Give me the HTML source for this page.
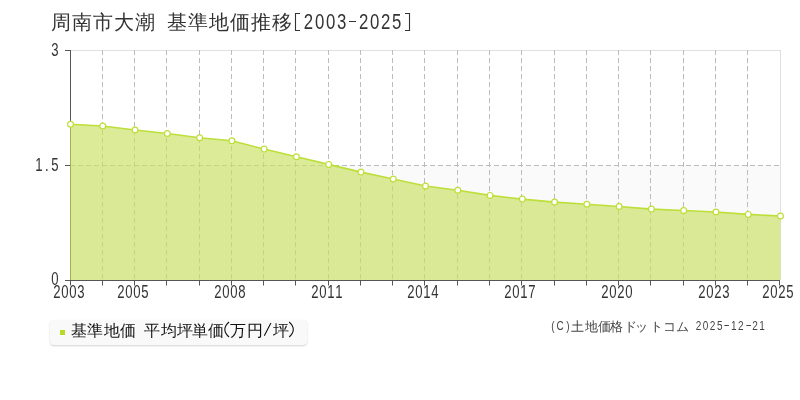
<!DOCTYPE html>
<html><head><meta charset="utf-8"><style>
html,body{margin:0;padding:0;background:#fff;width:800px;height:400px;overflow:hidden;}
body{font-family:"Liberation Sans",sans-serif;position:relative;}
svg{position:absolute;left:0;top:0;will-change:transform;}
text{font-family:"Liberation Sans",sans-serif;}
.ax{font-size:17.5px;fill:#333;}
.tt{font-size:20px;fill:#333;}
.th{font-size:21.5px;fill:#333;}
.lg{font-size:16px;fill:#111;}
.cp{font-size:12.5px;fill:#444;}
.cd{font-size:12.5px;fill:#444;}
.legend{position:absolute;left:50px;top:320px;width:257px;height:25px;background:#f9f9f9;border-radius:4px;box-shadow:0 1px 2px rgba(0,0,0,0.18);}
.legend .mk{position:absolute;left:10px;top:10px;width:5px;height:5px;background:#b7da2a;}
</style></head><body>
<div class="legend"><div class="mk"></div></div>
<svg width="800" height="400">
<rect x="70" y="165" width="710" height="115" fill="#fafafa"/>
<line x1="70" y1="50.5" x2="780" y2="50.5" stroke="#e0e0e0" stroke-width="1"/>
<line x1="780.5" y1="50" x2="780.5" y2="280" stroke="#e0e0e0" stroke-width="1"/>
<line x1="70" y1="165.5" x2="780" y2="165.5" stroke="#bcbcbc" stroke-width="1" stroke-dasharray="5,3"/>
<line x1="102.5" y1="50" x2="102.5" y2="280" stroke="#bcbcbc" stroke-width="1" stroke-dasharray="5,3"/>
<line x1="134.5" y1="50" x2="134.5" y2="280" stroke="#bcbcbc" stroke-width="1" stroke-dasharray="5,3"/>
<line x1="166.5" y1="50" x2="166.5" y2="280" stroke="#bcbcbc" stroke-width="1" stroke-dasharray="5,3"/>
<line x1="199.5" y1="50" x2="199.5" y2="280" stroke="#bcbcbc" stroke-width="1" stroke-dasharray="5,3"/>
<line x1="231.5" y1="50" x2="231.5" y2="280" stroke="#bcbcbc" stroke-width="1" stroke-dasharray="5,3"/>
<line x1="263.5" y1="50" x2="263.5" y2="280" stroke="#bcbcbc" stroke-width="1" stroke-dasharray="5,3"/>
<line x1="295.5" y1="50" x2="295.5" y2="280" stroke="#bcbcbc" stroke-width="1" stroke-dasharray="5,3"/>
<line x1="328.5" y1="50" x2="328.5" y2="280" stroke="#bcbcbc" stroke-width="1" stroke-dasharray="5,3"/>
<line x1="360.5" y1="50" x2="360.5" y2="280" stroke="#bcbcbc" stroke-width="1" stroke-dasharray="5,3"/>
<line x1="392.5" y1="50" x2="392.5" y2="280" stroke="#bcbcbc" stroke-width="1" stroke-dasharray="5,3"/>
<line x1="424.5" y1="50" x2="424.5" y2="280" stroke="#bcbcbc" stroke-width="1" stroke-dasharray="5,3"/>
<line x1="457.5" y1="50" x2="457.5" y2="280" stroke="#bcbcbc" stroke-width="1" stroke-dasharray="5,3"/>
<line x1="489.5" y1="50" x2="489.5" y2="280" stroke="#bcbcbc" stroke-width="1" stroke-dasharray="5,3"/>
<line x1="521.5" y1="50" x2="521.5" y2="280" stroke="#bcbcbc" stroke-width="1" stroke-dasharray="5,3"/>
<line x1="554.5" y1="50" x2="554.5" y2="280" stroke="#bcbcbc" stroke-width="1" stroke-dasharray="5,3"/>
<line x1="586.5" y1="50" x2="586.5" y2="280" stroke="#bcbcbc" stroke-width="1" stroke-dasharray="5,3"/>
<line x1="618.5" y1="50" x2="618.5" y2="280" stroke="#bcbcbc" stroke-width="1" stroke-dasharray="5,3"/>
<line x1="650.5" y1="50" x2="650.5" y2="280" stroke="#bcbcbc" stroke-width="1" stroke-dasharray="5,3"/>
<line x1="683.5" y1="50" x2="683.5" y2="280" stroke="#bcbcbc" stroke-width="1" stroke-dasharray="5,3"/>
<line x1="715.5" y1="50" x2="715.5" y2="280" stroke="#bcbcbc" stroke-width="1" stroke-dasharray="5,3"/>
<line x1="747.5" y1="50" x2="747.5" y2="280" stroke="#bcbcbc" stroke-width="1" stroke-dasharray="5,3"/>
<line x1="70.5" y1="50" x2="70.5" y2="280" stroke="#555" stroke-width="1"/>
<polygon points="70,280 70,124.25 70.50,124.25 102.77,126.00 135.05,130.00 167.32,133.50 199.59,137.75 231.86,140.80 264.14,149.10 296.41,156.75 328.68,164.40 360.95,172.10 393.23,179.00 425.50,186.00 457.77,190.25 490.05,195.40 522.32,199.10 554.59,202.10 586.86,204.25 619.14,206.50 651.41,209.10 683.68,210.50 715.95,212.00 748.23,214.40 780.50,216.00 780.5,280" fill="rgba(200,224,97,0.65)"/>
<polyline points="70.50,124.25 102.77,126.00 135.05,130.00 167.32,133.50 199.59,137.75 231.86,140.80 264.14,149.10 296.41,156.75 328.68,164.40 360.95,172.10 393.23,179.00 425.50,186.00 457.77,190.25 490.05,195.40 522.32,199.10 554.59,202.10 586.86,204.25 619.14,206.50 651.41,209.10 683.68,210.50 715.95,212.00 748.23,214.40 780.50,216.00" fill="none" stroke="#bddf3a" stroke-width="1.6" stroke-linejoin="round"/>
<circle cx="70.50" cy="124.25" r="2.9" fill="#fff" stroke="#bddf3a" stroke-width="1.2"/>
<circle cx="102.77" cy="126.00" r="2.9" fill="#fff" stroke="#bddf3a" stroke-width="1.2"/>
<circle cx="135.05" cy="130.00" r="2.9" fill="#fff" stroke="#bddf3a" stroke-width="1.2"/>
<circle cx="167.32" cy="133.50" r="2.9" fill="#fff" stroke="#bddf3a" stroke-width="1.2"/>
<circle cx="199.59" cy="137.75" r="2.9" fill="#fff" stroke="#bddf3a" stroke-width="1.2"/>
<circle cx="231.86" cy="140.80" r="2.9" fill="#fff" stroke="#bddf3a" stroke-width="1.2"/>
<circle cx="264.14" cy="149.10" r="2.9" fill="#fff" stroke="#bddf3a" stroke-width="1.2"/>
<circle cx="296.41" cy="156.75" r="2.9" fill="#fff" stroke="#bddf3a" stroke-width="1.2"/>
<circle cx="328.68" cy="164.40" r="2.9" fill="#fff" stroke="#bddf3a" stroke-width="1.2"/>
<circle cx="360.95" cy="172.10" r="2.9" fill="#fff" stroke="#bddf3a" stroke-width="1.2"/>
<circle cx="393.23" cy="179.00" r="2.9" fill="#fff" stroke="#bddf3a" stroke-width="1.2"/>
<circle cx="425.50" cy="186.00" r="2.9" fill="#fff" stroke="#bddf3a" stroke-width="1.2"/>
<circle cx="457.77" cy="190.25" r="2.9" fill="#fff" stroke="#bddf3a" stroke-width="1.2"/>
<circle cx="490.05" cy="195.40" r="2.9" fill="#fff" stroke="#bddf3a" stroke-width="1.2"/>
<circle cx="522.32" cy="199.10" r="2.9" fill="#fff" stroke="#bddf3a" stroke-width="1.2"/>
<circle cx="554.59" cy="202.10" r="2.9" fill="#fff" stroke="#bddf3a" stroke-width="1.2"/>
<circle cx="586.86" cy="204.25" r="2.9" fill="#fff" stroke="#bddf3a" stroke-width="1.2"/>
<circle cx="619.14" cy="206.50" r="2.9" fill="#fff" stroke="#bddf3a" stroke-width="1.2"/>
<circle cx="651.41" cy="209.10" r="2.9" fill="#fff" stroke="#bddf3a" stroke-width="1.2"/>
<circle cx="683.68" cy="210.50" r="2.9" fill="#fff" stroke="#bddf3a" stroke-width="1.2"/>
<circle cx="715.95" cy="212.00" r="2.9" fill="#fff" stroke="#bddf3a" stroke-width="1.2"/>
<circle cx="748.23" cy="214.40" r="2.9" fill="#fff" stroke="#bddf3a" stroke-width="1.2"/>
<circle cx="780.50" cy="216.00" r="2.9" fill="#fff" stroke="#bddf3a" stroke-width="1.2"/>
<line x1="65" y1="280.5" x2="780" y2="280.5" stroke="#555" stroke-width="1"/>
<line x1="70.5" y1="280" x2="70.5" y2="285.5" stroke="#555" stroke-width="1"/>
<line x1="102.5" y1="280" x2="102.5" y2="285.5" stroke="#555" stroke-width="1"/>
<line x1="134.5" y1="280" x2="134.5" y2="285.5" stroke="#555" stroke-width="1"/>
<line x1="166.5" y1="280" x2="166.5" y2="285.5" stroke="#555" stroke-width="1"/>
<line x1="199.5" y1="280" x2="199.5" y2="285.5" stroke="#555" stroke-width="1"/>
<line x1="231.5" y1="280" x2="231.5" y2="285.5" stroke="#555" stroke-width="1"/>
<line x1="263.5" y1="280" x2="263.5" y2="285.5" stroke="#555" stroke-width="1"/>
<line x1="295.5" y1="280" x2="295.5" y2="285.5" stroke="#555" stroke-width="1"/>
<line x1="328.5" y1="280" x2="328.5" y2="285.5" stroke="#555" stroke-width="1"/>
<line x1="360.5" y1="280" x2="360.5" y2="285.5" stroke="#555" stroke-width="1"/>
<line x1="392.5" y1="280" x2="392.5" y2="285.5" stroke="#555" stroke-width="1"/>
<line x1="424.5" y1="280" x2="424.5" y2="285.5" stroke="#555" stroke-width="1"/>
<line x1="457.5" y1="280" x2="457.5" y2="285.5" stroke="#555" stroke-width="1"/>
<line x1="489.5" y1="280" x2="489.5" y2="285.5" stroke="#555" stroke-width="1"/>
<line x1="521.5" y1="280" x2="521.5" y2="285.5" stroke="#555" stroke-width="1"/>
<line x1="554.5" y1="280" x2="554.5" y2="285.5" stroke="#555" stroke-width="1"/>
<line x1="586.5" y1="280" x2="586.5" y2="285.5" stroke="#555" stroke-width="1"/>
<line x1="618.5" y1="280" x2="618.5" y2="285.5" stroke="#555" stroke-width="1"/>
<line x1="650.5" y1="280" x2="650.5" y2="285.5" stroke="#555" stroke-width="1"/>
<line x1="683.5" y1="280" x2="683.5" y2="285.5" stroke="#555" stroke-width="1"/>
<line x1="715.5" y1="280" x2="715.5" y2="285.5" stroke="#555" stroke-width="1"/>
<line x1="747.5" y1="280" x2="747.5" y2="285.5" stroke="#555" stroke-width="1"/>
<line x1="779.5" y1="280" x2="779.5" y2="285.5" stroke="#555" stroke-width="1"/>
<line x1="65" y1="50.5" x2="70" y2="50.5" stroke="#555" stroke-width="1"/>
<line x1="65" y1="165.5" x2="70" y2="165.5" stroke="#555" stroke-width="1"/>
<line x1="65" y1="280.5" x2="70" y2="280.5" stroke="#555" stroke-width="1"/>
<text class="ax" x="73.20" y="55.6" text-anchor="middle" transform="scale(0.75 1)">3</text>
<text class="ax" x="51.73 62.53 73.33" y="170.6" text-anchor="middle" transform="scale(0.75 1)">1.5</text>
<text class="ax" x="73.33" y="284.8" text-anchor="middle" transform="scale(0.75 1)">0</text>
<text class="ax" x="75.93 86.60 97.27 107.93" y="297.6" text-anchor="middle" transform="scale(0.75 1)">2003</text>
<text class="ax" x="161.27 171.93 182.60 193.27" y="297.6" text-anchor="middle" transform="scale(0.75 1)">2005</text>
<text class="ax" x="290.60 301.27 311.93 322.60" y="297.6" text-anchor="middle" transform="scale(0.75 1)">2008</text>
<text class="ax" x="419.93 430.60 441.27 451.93" y="297.6" text-anchor="middle" transform="scale(0.75 1)">2011</text>
<text class="ax" x="547.93 558.60 569.27 579.93" y="297.6" text-anchor="middle" transform="scale(0.75 1)">2014</text>
<text class="ax" x="677.27 687.93 698.60 709.27" y="297.6" text-anchor="middle" transform="scale(0.75 1)">2017</text>
<text class="ax" x="806.60 817.27 827.93 838.60" y="297.6" text-anchor="middle" transform="scale(0.75 1)">2020</text>
<text class="ax" x="935.93 946.60 957.27 967.93" y="297.6" text-anchor="middle" transform="scale(0.75 1)">2023</text>
<text class="ax" x="1021.27 1031.93 1042.60 1053.27" y="297.6" text-anchor="middle" transform="scale(0.75 1)">2025</text>
<text class="tt" x="61.05 82.05 103.05 124.05 145.05 176.65 197.65 218.65 239.65 260.65 281.65" y="29.0" text-anchor="middle">周南市大潮基準地価推移</text>
<text class="th" x="395.54 409.67 423.79 437.92" y="29.0" text-anchor="middle" transform="scale(0.78 1)">2003</text>
<text class="th" x="466.18 480.31 494.44 508.56" y="29.0" text-anchor="middle" transform="scale(0.78 1)">2025</text>
<path d="M300,13.5H295.5V30.5H300M405,13.5H409.5V30.5H405M349,21.5H356" fill="none" stroke="#333" stroke-width="1.1"/>
<text class="lg" x="79.25 95.40 111.50 128.00 152.00 168.50 184.50 200.00 216.00 237.70 254.60 280.50" y="335.5" text-anchor="middle">基準地価平均坪単価万円坪</text>
<path d="M229,322 Q220.6,329.5 229,337 M289.2,322 Q297.4,329.5 289.2,337 M264.3,335.8 L270.9,323" fill="none" stroke="#111" stroke-width="1.1"/>
<text class="cd" x="691.12 700.12 710.00" y="330.5" text-anchor="middle" transform="scale(0.8 1)">(C)</text>
<text class="cp" x="577.60 591.00 604.50 616.80 630.00 641.60 656.30 669.70 682.60" y="330.5" text-anchor="middle">土地価格ドットコム</text>
<text class="cd" x="873.12 881.95 890.77 899.60 917.25 926.07 943.73 952.55" y="330.5" text-anchor="middle" transform="scale(0.8 1)">20251221</text>
<path d="M724.3,325.5H728.9M746.3,325.5H750.9" fill="none" stroke="#444" stroke-width="1"/>
</svg>
</body></html>
